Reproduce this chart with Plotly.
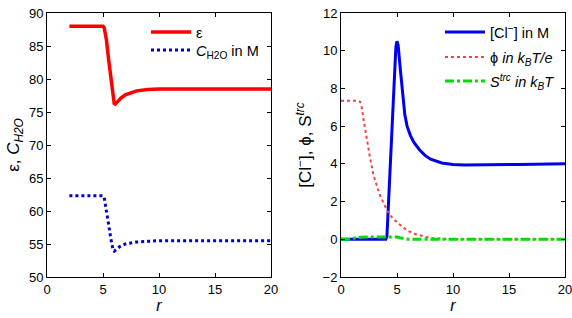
import plotly.graph_objects as go

# Left panel data
r_eps = [2, 3, 4, 5, 5.1, 5.3, 5.5, 5.7, 5.9, 6.0, 6.1, 6.3, 6.6, 7.0, 7.5, 8.0, 9.0, 10.0, 12.0, 15.0, 20.0]
eps = [88, 88, 88, 88, 87.8, 86.0, 83.0, 80.0, 77.2, 76.3, 76.2, 76.6, 77.1, 77.6, 77.9, 78.2, 78.4, 78.5, 78.5, 78.5, 78.5]
r_c = [2, 3, 4, 5, 5.1, 5.3, 5.5, 5.7, 5.9, 6.0, 6.2, 6.5, 7.0, 7.5, 8.0, 9.0, 10.0, 12.0, 15.0, 20.0]
c_h2o = [62.3, 62.3, 62.3, 62.3, 62.1, 60.3, 58.0, 55.8, 54.1, 53.9, 54.2, 54.6, 55.0, 55.2, 55.3, 55.4, 55.5, 55.5, 55.5, 55.5]

# Right panel data
r_cl = [0, 2, 4, 4.1, 4.3, 4.5, 4.7, 4.9, 5.0, 5.1, 5.3, 5.5, 5.7, 5.9, 6.2, 6.5, 7.0, 7.5, 8.0, 9.0, 10.0, 11.0, 13.0, 16.0, 20.0]
cl = [0, 0, 0, 0.15, 2.8, 5.5, 8.2, 10.2, 10.5, 10.3, 9.0, 7.6, 6.6, 6.0, 5.5, 5.15, 4.75, 4.45, 4.25, 4.05, 3.97, 3.94, 3.94, 3.97, 4.0]
r_phi = [0, 0.5, 1.0, 1.5, 1.7, 1.85, 2.0, 2.3, 2.6, 2.9, 3.2, 3.5, 4.1, 4.5, 5.0, 5.5, 5.9, 6.5, 7.0, 7.6, 8.2, 9.0, 10.0, 15.0, 20.0]
phi = [7.35, 7.35, 7.35, 7.35, 7.3, 7.0, 6.4, 5.3, 4.3, 3.4, 2.8, 2.3, 1.55, 1.2, 0.9, 0.65, 0.47, 0.3, 0.2, 0.12, 0.06, 0.02, 0.0, 0.0, 0.0]
r_s = [0, 0.8, 1.3, 2.0, 3.0, 4.0, 4.5, 5.0, 5.5, 6.0, 7.0, 10.0, 15.0, 20.0]
s_trc = [0, 0, 0.08, 0.12, 0.12, 0.13, 0.15, 0.12, 0.05, 0.0, 0.0, 0.0, 0.0, 0.0]

FONT = "Liberation Sans, Arial, sans-serif"

fig = go.Figure()
fig.add_trace(go.Scatter(x=r_eps, y=eps, mode="lines", name="ε",
                         line=dict(color="#ff0000", width=3.5), xaxis="x", yaxis="y", legend="legend"))
fig.add_trace(go.Scatter(x=r_c, y=c_h2o, mode="lines", name="<i>C</i><sub>H2O</sub> in M",
                         line=dict(color="#0000cc", width=3, dash="dot"), xaxis="x", yaxis="y", legend="legend2"))
fig.add_trace(go.Scatter(x=r_cl, y=cl, mode="lines", name="[Cl<sup>−</sup>] in M",
                         line=dict(color="#0000ee", width=3), xaxis="x2", yaxis="y2", legend="legend3"))
fig.add_trace(go.Scatter(x=r_phi, y=phi, mode="lines", name="ϕ <i>in k</i><sub><i>B</i></sub><i>T/e</i>",
                         line=dict(color="#ee4444", width=2, dash="dot"), xaxis="x2", yaxis="y2", legend="legend4"))
fig.add_trace(go.Scatter(x=r_s, y=s_trc, mode="lines", name="<i>S</i><sup><i>trc</i></sup><i> in k</i><sub><i>B</i></sub><i>T</i>",
                         line=dict(color="#00dd00", width=3, dash="dashdot"), xaxis="x2", yaxis="y2", legend="legend5"))

ax_common = dict(showline=True, linecolor="black", linewidth=1, mirror="ticks", ticks="inside",
                 ticklen=4, tickcolor="black", showgrid=False, zeroline=False, automargin=False,
                 ticklabeloverflow="allow", tickfont=dict(family=FONT, size=13, color="black"))


def leg(xpx, ypx):
    return dict(x=xpx / 572, y=1 - ypx / 318, xanchor="left", yanchor="middle", bgcolor="rgba(0,0,0,0)",
                font=dict(family=FONT, size=14.5), tracegroupgap=0, itemwidth=40)


y0, y1 = 1 - 277 / 318, 1 - 13 / 318
fig.update_layout(
    width=572, height=318, margin=dict(l=0, r=0, t=0, b=0),
    paper_bgcolor="white", plot_bgcolor="white",
    font=dict(family=FONT, size=13, color="black"),
    xaxis=dict(domain=[47 / 572, 271 / 572], range=[0, 20], tickvals=[0, 5, 10, 15, 20],
               title=dict(text="<i>r</i>", standoff=2, font=dict(size=16)), anchor="y", **ax_common),
    yaxis=dict(domain=[y0, y1], range=[50, 90], tickvals=list(range(50, 91, 5)),
               title=dict(text="ε, <i>C</i><sub><i>H2O</i></sub>", standoff=4, font=dict(size=17)), anchor="x", **ax_common),
    xaxis2=dict(domain=[341 / 572, 565 / 572], range=[0, 20], tickvals=[0, 5, 10, 15, 20],
                title=dict(text="<i>r</i>", standoff=2, font=dict(size=16)), anchor="y2", **ax_common),
    yaxis2=dict(domain=[y0, y1], range=[-2, 12], tickvals=list(range(-2, 13, 2)),
                title=dict(text="[Cl<sup>−</sup>], ϕ, S<sup><i>trc</i></sup>", standoff=6, font=dict(size=17)), anchor="x2", **ax_common),
    legend=leg(146, 32),
    legend2=leg(146, 50),
    legend3=leg(440, 32),
    legend4=leg(440, 57),
    legend5=leg(440, 81),
    showlegend=True,
)

fig.write_html("out.html")
